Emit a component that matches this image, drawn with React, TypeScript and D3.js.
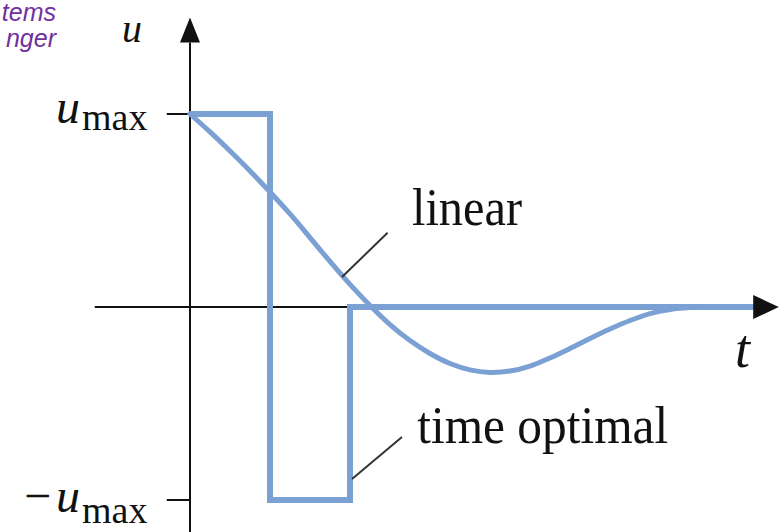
import React from "react";
import * as d3 from "d3";

// Linear controller response (time, normalised input u/umax)
const linearT = [0, 0.25, 0.5, 0.75, 1, 1.25, 1.5, 1.75, 2, 2.25, 2.5, 2.75, 3, 3.25, 3.5, 3.75, 4, 4.25, 4.5, 4.75, 5, 5.25, 5.5, 5.75, 6, 6.25, 6.5, 7.04];
const linearU = [1, 0.907, 0.808, 0.705, 0.596, 0.482, 0.36, 0.236, 0.117, 0.008, -0.091, -0.174, -0.241, -0.293, -0.326, -0.339, -0.332, -0.306, -0.264, -0.215, -0.163, -0.114, -0.07, -0.034, -0.013, -0.003, 0, 0];

// Bang-bang (time optimal) input
const optimalT = [0, 1, 1, 2, 2, 7.04];
const optimalU = [1, 1, -1, -1, 0, 0];

// Annotation labels
const tickLabels = ["u", "max"];
const curveLabels = ["linear", "time optimal"];
const cornerText = ["tems", "nger"];

const W = 783;
const H = 532;
const BLUE = "#7ba0d4";
const INK = "#111";

export default function App() {
  const x = d3.scaleLinear().domain([0, 7]).range([190, 750]);
  const y = d3.scaleLinear().domain([-1, 1]).range([500, 114]);

  const linearPath =
    d3
      .line<[number, number]>()
      .x((d) => x(d[0]))
      .y((d) => y(d[1]))
      .curve(d3.curveCatmullRom.alpha(0.5))(linearT.map((t, i) => [t, linearU[i]] as [number, number])) || "";
  const optimalPath =
    d3
      .line<[number, number]>()
      .x((d) => x(d[0]))
      .y((d) => y(d[1]))(optimalT.map((t, i) => [t, optimalU[i]] as [number, number])) || "";

  const x0 = x(0);
  const y0 = y(0);
  const xTip = x(7.36);
  const xBase = x(7.04);
  const yTip = y(1.5);
  const yBase = y(1.37);

  const serif = "'Liberation Serif', 'DejaVu Serif', serif";

  return (
    <svg
      width={W}
      height={H}
      viewBox={`0 0 ${W} ${H}`}
      style={{ position: "absolute", left: 0, top: 0, background: "#fff" }}
    >
      <rect width={W} height={H} fill="#fff" />

      {/* corner caption */}
      <g fill="#7030a0" fontFamily="'Liberation Sans', Arial, sans-serif" fontStyle="italic" fontSize={25}>
        <text x={56} y={21} textAnchor="end">{cornerText[0]}</text>
        <text x={56} y={47} textAnchor="end">{cornerText[1]}</text>
      </g>

      {/* axes */}
      <g stroke={INK} strokeWidth={2} fill="none">
        <line x1={x(-1.19)} x2={xBase} y1={y0} y2={y0} />
        <line x1={x0} x2={x0} y1={y(-1.17)} y2={yBase} />
        <line x1={x(-0.29)} x2={x0} y1={y(1)} y2={y(1)} />
        <line x1={x(-0.29)} x2={x0} y1={y(-1)} y2={y(-1)} />
      </g>

      {/* curves */}
      <path d={optimalPath} fill="none" stroke={BLUE} strokeWidth={6} strokeLinejoin="miter" />
      <path d={linearPath} fill="none" stroke={BLUE} strokeWidth={5} strokeLinecap="round" />

      {/* arrow heads */}
      <path d={`M${xTip},${y0} L${xBase},${y0 - 12} L${xBase},${y0 + 12} Z`} fill={INK} />
      <path d={`M${x0},${yTip} L${x0 - 10},${yBase} L${x0 + 10},${yBase} Z`} fill={INK} />

      {/* leader lines */}
      <g stroke="#333" strokeWidth={2}>
        <line x1={x(1.9)} y1={y(0.155)} x2={x(2.47)} y2={y(0.385)} />
        <line x1={x(2.025)} y1={y(-0.891)} x2={x(2.65)} y2={y(-0.674)} />
      </g>

      {/* labels */}
      <g fontFamily={serif} fill={INK}>
        <text x={x(2.775)} y={y(0.425)} fontSize={52} textLength={110} lengthAdjust="spacingAndGlyphs">
          {curveLabels[0]}
        </text>
        <text x={x(2.84)} y={y(-0.705)} fontSize={52} textLength={251} lengthAdjust="spacingAndGlyphs">
          {curveLabels[1]}
        </text>

        <text x={122} y={42} fontSize={40} fontStyle="italic">{tickLabels[0]}</text>
        <text x={735} y={367} fontSize={54} fontStyle="italic">t</text>

        <text x={56} y={123} fontSize={48} fontStyle="italic">{tickLabels[0]}</text>
        <text x={82} y={130} fontSize={38}>{tickLabels[1]}</text>

        <text x={24} y={512} fontSize={48}>{"\u2212"}</text>
        <text x={56} y={512} fontSize={48} fontStyle="italic">{tickLabels[0]}</text>
        <text x={82} y={523} fontSize={38}>{tickLabels[1]}</text>
      </g>
    </svg>
  );
}
